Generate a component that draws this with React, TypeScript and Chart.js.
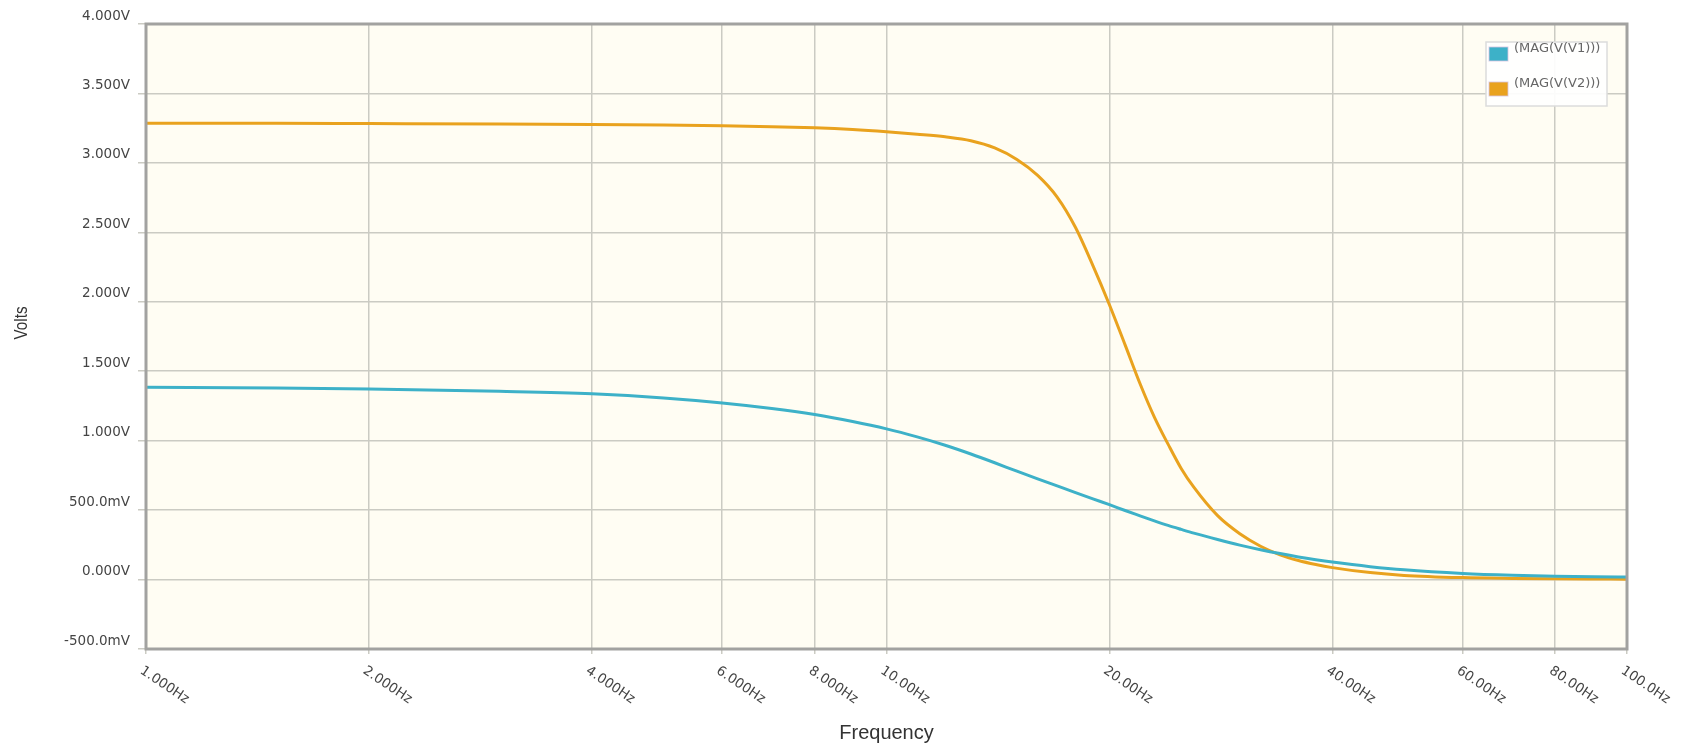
import React, { useEffect, useRef } from "react";
import { Chart, registerables } from "chart.js";

Chart.register(...registerables);

const FREQS = [1, 1.5, 2, 3, 4, 5, 6, 7, 8, 9, 10, 11, 12, 13, 14, 15, 16, 17, 18, 19, 20, 21, 22, 23, 24, 25, 26, 28, 30, 32, 34, 36, 38, 40, 45, 50, 60, 70, 80, 90, 100];

const V1_MAG = [1.385, 1.38, 1.372, 1.355, 1.337, 1.308, 1.272, 1.232, 1.188, 1.138, 1.085, 1.027, 0.967, 0.904, 0.841, 0.78, 0.725, 0.674, 0.626, 0.581, 0.539, 0.497, 0.459, 0.423, 0.39, 0.361, 0.334, 0.288, 0.248, 0.215, 0.187, 0.163, 0.143, 0.126, 0.093, 0.07, 0.044, 0.031, 0.024, 0.02, 0.018];

const V2_MAG = [3.285, 3.285, 3.283, 3.28, 3.276, 3.272, 3.267, 3.261, 3.253, 3.241, 3.225, 3.207, 3.188, 3.16, 3.108, 3.025, 2.91, 2.754, 2.535, 2.261, 1.979, 1.69, 1.41, 1.17, 0.975, 0.8, 0.665, 0.46, 0.33, 0.24, 0.178, 0.137, 0.108, 0.086, 0.05, 0.03, 0.014, 0.008, 0.005, 0.004, 0.003];

const SERIES_LABELS = ["(MAG(V(V1)))", "(MAG(V(V2)))"];
const SERIES_COLORS = ["#3DB1C8", "#E9A21E"];

const X_TICKS = [1, 2, 4, 6, 8, 10, 20, 40, 60, 80, 100];
const X_TICK_LABELS = ["1.000Hz", "2.000Hz", "4.000Hz", "6.000Hz", "8.000Hz", "10.00Hz", "20.00Hz", "40.00Hz", "60.00Hz", "80.00Hz", "100.0Hz"];

const Y_MIN = -0.5;
const Y_MAX = 4;
const Y_STEP = 0.5;

const X_TITLE = "Frequency";
const Y_TITLE = "Volts";

function formatVolts(v: number): string {
  const r = Math.round(v * 1000) / 1000;
  if (r !== 0 && Math.abs(r) < 1) return (r * 1000).toFixed(1) + "mV";
  return r.toFixed(3) + "V";
}

const decorPlugin = {
  id: "decor",
  beforeDraw(chart: any) {
    const { ctx, chartArea: a } = chart;
    ctx.save();
    ctx.fillStyle = "#FFFDF3";
    ctx.fillRect(a.left, a.top, a.right - a.left, a.bottom - a.top);
    ctx.restore();
  },
  afterDatasetsDraw(chart: any) {
    const { ctx, chartArea: a } = chart;
    ctx.save();
    ctx.strokeStyle = "#A2A2A0";
    ctx.lineWidth = 3;
    ctx.strokeRect(a.left, a.top, a.right - a.left, a.bottom - a.top);
    ctx.restore();
  },
  afterDraw(chart: any) {
    const { ctx, chartArea: a } = chart;
    const xs = chart.scales.x;
    ctx.save();
    ctx.fillStyle = "#444";
    ctx.font = "13.5px 'DejaVu Sans'";
    ctx.textAlign = "left";
    ctx.textBaseline = "top";
    X_TICKS.forEach((v, i) => {
      const px = xs.getPixelForValue(v);
      ctx.save();
      ctx.translate(px - 1, a.bottom + 15);
      ctx.rotate((34 * Math.PI) / 180);
      ctx.fillText(X_TICK_LABELS[i], 0, 0);
      ctx.restore();
    });
    ctx.fillStyle = "#333";
    ctx.font = "20px 'Liberation Sans'";
    ctx.textAlign = "center";
    ctx.textBaseline = "alphabetic";
    ctx.fillText(X_TITLE, (a.left + a.right) / 2, 739);
    ctx.save();
    ctx.translate(22, 323);
    ctx.rotate(-Math.PI / 2);
    ctx.scale(0.8, 1);
    ctx.font = "19px 'Liberation Sans'";
    ctx.textBaseline = "middle";
    ctx.fillText(Y_TITLE, 0, 0);
    ctx.restore();
    const lx = 1486, ly = 42, lw = 121, lh = 64;
    ctx.fillStyle = "rgba(255,255,255,0.92)";
    ctx.fillRect(lx, ly, lw, lh);
    ctx.strokeStyle = "#DCDCDC";
    ctx.lineWidth = 1.5;
    ctx.strokeRect(lx, ly, lw, lh);
    chart.data.datasets.forEach((ds: any, i: number) => {
      const sy = ly + 5 + i * 35;
      ctx.fillStyle = ds.borderColor;
      ctx.fillRect(lx + 3, sy, 19, 14);
      ctx.strokeStyle = "rgba(215,195,225,0.8)";
      ctx.lineWidth = 1;
      ctx.strokeRect(lx + 3, sy, 19, 14);
      ctx.fillStyle = "#666";
      ctx.font = "13px 'DejaVu Sans'";
      ctx.textAlign = "left";
      ctx.textBaseline = "middle";
      ctx.fillText(ds.label, lx + 28, sy + 2);
    });
    ctx.restore();
  },
};

export default function App() {
  const ref = useRef<HTMLCanvasElement | null>(null);
  useEffect(() => {
    if (!ref.current) return;
    const mk = (vals: number[]) => FREQS.map((f, i) => ({ x: f, y: vals[i] }));
    const chart = new Chart(ref.current, {
      type: "line",
      data: {
        datasets: [
          {
            label: SERIES_LABELS[0],
            data: mk(V1_MAG),
            borderColor: SERIES_COLORS[0],
            backgroundColor: SERIES_COLORS[0],
            borderWidth: 3,
            pointRadius: 0,
            cubicInterpolationMode: "monotone",
            fill: false,
          },
          {
            label: SERIES_LABELS[1],
            data: mk(V2_MAG),
            borderColor: SERIES_COLORS[1],
            backgroundColor: SERIES_COLORS[1],
            borderWidth: 3,
            pointRadius: 0,
            cubicInterpolationMode: "monotone",
            fill: false,
          },
        ],
      },
      options: {
        responsive: false,
        animation: false,
        devicePixelRatio: 1,
        layout: { padding: { top: 24, right: 60, left: 0, bottom: 0 } },
        plugins: { legend: { display: false }, tooltip: { enabled: false }, title: { display: false } },
        scales: {
          x: {
            type: "logarithmic",
            min: 1,
            max: 100,
            afterBuildTicks: (s: any) => {
              s.ticks = X_TICKS.map((v) => ({ value: v }));
            },
            afterFit: (s: any) => {
              s.height = 97;
            },
            ticks: { display: false },
            grid: { color: "#CBCBC3", lineWidth: 1.5, tickLength: 5, drawTicks: true },
            border: { display: false },
          },
          y: {
            type: "linear",
            min: Y_MIN,
            max: Y_MAX,
            afterFit: (s: any) => {
              s.width = 146;
            },
            ticks: {
              stepSize: Y_STEP,
              padding: 8,
              labelOffset: -8,
              color: "#444",
              font: { family: "'DejaVu Sans'", size: 13.5 },
              callback: (v: any) => formatVolts(Number(v)),
            },
            grid: { color: "#CBCBC3", lineWidth: 1.5, tickLength: 8 },
            border: { display: false },
          },
        },
      },
      plugins: [decorPlugin],
    });
    return () => chart.destroy();
  }, []);
  return (
    <div style={{ position: "fixed", left: 0, top: 0, width: 1687, height: 746, background: "#fff" }}>
      <canvas ref={ref} width={1687} height={746} style={{ width: 1687, height: 746, display: "block" }} />
    </div>
  );
}
